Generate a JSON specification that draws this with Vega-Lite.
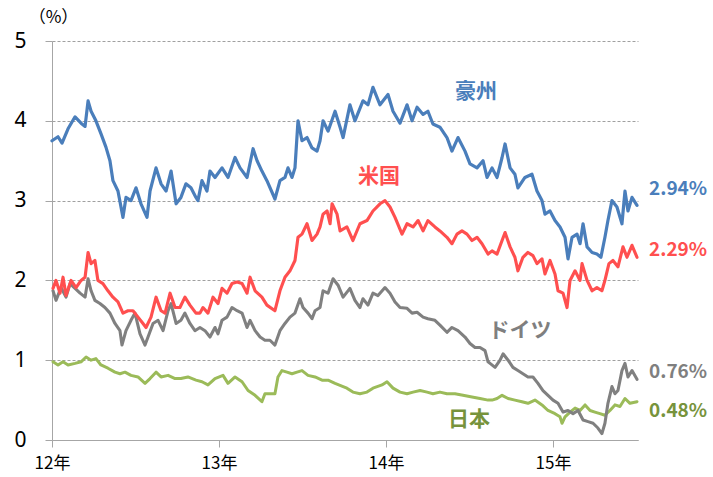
{
  "$schema": "https://vega.github.io/schema/vega-lite/v6.json",
  "width": 586,
  "height": 399,
  "autosize": {"type": "none"},
  "padding": {"left": 52, "top": 41, "right": 75, "bottom": 37},
  "config": {
    "view": {"stroke": null},
    "font": "Noto Sans CJK JP",
    "axis": {"labelFont": "Noto Sans CJK JP", "titleFont": "Noto Sans CJK JP"}
  },
  "datasets": {
    "series": [
      {"c":"日本","t":12.006,"v":0.98},{"c":"日本","t":12.036,"v":0.94},{"c":"日本","t":12.066,"v":0.98},{"c":"日本","t":12.096,"v":0.94},{"c":"日本","t":12.138,"v":0.96},{"c":"日本","t":12.174,"v":0.98},{"c":"日本","t":12.204,"v":1.04},{"c":"日本","t":12.234,"v":1.0},{"c":"日本","t":12.263,"v":1.02},{"c":"日本","t":12.293,"v":0.94},{"c":"日本","t":12.335,"v":0.9},{"c":"日本","t":12.377,"v":0.85},{"c":"日本","t":12.407,"v":0.83},{"c":"日本","t":12.437,"v":0.85},{"c":"日本","t":12.473,"v":0.81},{"c":"日本","t":12.515,"v":0.79},{"c":"日本","t":12.557,"v":0.71},{"c":"日本","t":12.587,"v":0.77},{"c":"日本","t":12.623,"v":0.85},{"c":"日本","t":12.653,"v":0.79},{"c":"日本","t":12.695,"v":0.81},{"c":"日本","t":12.737,"v":0.77},{"c":"日本","t":12.772,"v":0.77},{"c":"日本","t":12.814,"v":0.79},{"c":"日本","t":12.862,"v":0.75},{"c":"日本","t":12.898,"v":0.73},{"c":"日本","t":12.934,"v":0.69},{"c":"日本","t":12.976,"v":0.77},{"c":"日本","t":13.024,"v":0.81},{"c":"日本","t":13.054,"v":0.71},{"c":"日本","t":13.096,"v":0.79},{"c":"日本","t":13.138,"v":0.73},{"c":"日本","t":13.174,"v":0.62},{"c":"日本","t":13.216,"v":0.56},{"c":"日本","t":13.257,"v":0.48},{"c":"日本","t":13.275,"v":0.58},{"c":"日本","t":13.305,"v":0.58},{"c":"日本","t":13.335,"v":0.58},{"c":"日本","t":13.353,"v":0.79},{"c":"日本","t":13.377,"v":0.87},{"c":"日本","t":13.407,"v":0.85},{"c":"日本","t":13.437,"v":0.83},{"c":"日本","t":13.467,"v":0.85},{"c":"日本","t":13.497,"v":0.87},{"c":"日本","t":13.533,"v":0.81},{"c":"日本","t":13.575,"v":0.79},{"c":"日本","t":13.617,"v":0.75},{"c":"日本","t":13.653,"v":0.75},{"c":"日本","t":13.695,"v":0.71},{"c":"日本","t":13.743,"v":0.67},{"c":"日本","t":13.766,"v":0.65},{"c":"日本","t":13.802,"v":0.6},{"c":"日本","t":13.844,"v":0.58},{"c":"日本","t":13.886,"v":0.6},{"c":"日本","t":13.922,"v":0.65},{"c":"日本","t":13.976,"v":0.69},{"c":"日本","t":14.006,"v":0.73},{"c":"日本","t":14.042,"v":0.65},{"c":"日本","t":14.084,"v":0.6},{"c":"日本","t":14.126,"v":0.58},{"c":"日本","t":14.162,"v":0.6},{"c":"日本","t":14.204,"v":0.62},{"c":"日本","t":14.246,"v":0.6},{"c":"日本","t":14.281,"v":0.58},{"c":"日本","t":14.323,"v":0.6},{"c":"日本","t":14.365,"v":0.58},{"c":"日本","t":14.413,"v":0.58},{"c":"日本","t":14.461,"v":0.56},{"c":"日本","t":14.515,"v":0.54},{"c":"日本","t":14.563,"v":0.52},{"c":"日本","t":14.611,"v":0.5},{"c":"日本","t":14.635,"v":0.5},{"c":"日本","t":14.665,"v":0.52},{"c":"日本","t":14.695,"v":0.56},{"c":"日本","t":14.731,"v":0.52},{"c":"日本","t":14.772,"v":0.5},{"c":"日本","t":14.814,"v":0.48},{"c":"日本","t":14.85,"v":0.46},{"c":"日本","t":14.892,"v":0.5},{"c":"日本","t":14.934,"v":0.44},{"c":"日本","t":14.97,"v":0.37},{"c":"日本","t":15.012,"v":0.33},{"c":"日本","t":15.042,"v":0.29},{"c":"日本","t":15.054,"v":0.21},{"c":"日本","t":15.072,"v":0.29},{"c":"日本","t":15.102,"v":0.35},{"c":"日本","t":15.132,"v":0.4},{"c":"日本","t":15.162,"v":0.37},{"c":"日本","t":15.192,"v":0.44},{"c":"日本","t":15.222,"v":0.37},{"c":"日本","t":15.251,"v":0.35},{"c":"日本","t":15.281,"v":0.33},{"c":"日本","t":15.311,"v":0.31},{"c":"日本","t":15.341,"v":0.37},{"c":"日本","t":15.371,"v":0.44},{"c":"日本","t":15.401,"v":0.42},{"c":"日本","t":15.431,"v":0.52},{"c":"日本","t":15.461,"v":0.46},{"c":"日本","t":15.503,"v":0.48},

      {"c":"ドイツ","t":12.006,"v":1.87},{"c":"ドイツ","t":12.024,"v":1.75},{"c":"ドイツ","t":12.054,"v":1.91},{"c":"ドイツ","t":12.084,"v":1.79},{"c":"ドイツ","t":12.108,"v":1.96},{"c":"ドイツ","t":12.138,"v":1.9},{"c":"ドイツ","t":12.168,"v":1.84},{"c":"ドイツ","t":12.198,"v":1.79},{"c":"ドイツ","t":12.216,"v":2.02},{"c":"ドイツ","t":12.234,"v":1.87},{"c":"ドイツ","t":12.257,"v":1.75},{"c":"ドイツ","t":12.287,"v":1.71},{"c":"ドイツ","t":12.317,"v":1.66},{"c":"ドイツ","t":12.347,"v":1.59},{"c":"ドイツ","t":12.377,"v":1.46},{"c":"ドイツ","t":12.407,"v":1.37},{"c":"ドイツ","t":12.419,"v":1.19},{"c":"ドイツ","t":12.443,"v":1.37},{"c":"ドイツ","t":12.473,"v":1.5},{"c":"ドイツ","t":12.497,"v":1.59},{"c":"ドイツ","t":12.527,"v":1.33},{"c":"ドイツ","t":12.557,"v":1.19},{"c":"ドイツ","t":12.575,"v":1.29},{"c":"ドイツ","t":12.605,"v":1.46},{"c":"ドイツ","t":12.635,"v":1.5},{"c":"ドイツ","t":12.665,"v":1.37},{"c":"ドイツ","t":12.695,"v":1.62},{"c":"ドイツ","t":12.713,"v":1.71},{"c":"ドイツ","t":12.743,"v":1.46},{"c":"ドイツ","t":12.772,"v":1.5},{"c":"ドイツ","t":12.796,"v":1.59},{"c":"ドイツ","t":12.826,"v":1.46},{"c":"ドイツ","t":12.856,"v":1.37},{"c":"ドイツ","t":12.886,"v":1.41},{"c":"ドイツ","t":12.916,"v":1.37},{"c":"ドイツ","t":12.946,"v":1.29},{"c":"ドイツ","t":12.976,"v":1.41},{"c":"ドイツ","t":12.994,"v":1.33},{"c":"ドイツ","t":13.018,"v":1.5},{"c":"ドイツ","t":13.048,"v":1.54},{"c":"ドイツ","t":13.078,"v":1.66},{"c":"ドイツ","t":13.108,"v":1.62},{"c":"ドイツ","t":13.138,"v":1.59},{"c":"ドイツ","t":13.168,"v":1.41},{"c":"ドイツ","t":13.186,"v":1.5},{"c":"ドイツ","t":13.216,"v":1.37},{"c":"ドイツ","t":13.246,"v":1.29},{"c":"ドイツ","t":13.275,"v":1.25},{"c":"ドイツ","t":13.305,"v":1.25},{"c":"ドイツ","t":13.335,"v":1.19},{"c":"ドイツ","t":13.365,"v":1.37},{"c":"ドイツ","t":13.395,"v":1.46},{"c":"ドイツ","t":13.425,"v":1.54},{"c":"ドイツ","t":13.455,"v":1.59},{"c":"ドイツ","t":13.485,"v":1.77},{"c":"ドイツ","t":13.503,"v":1.66},{"c":"ドイツ","t":13.533,"v":1.59},{"c":"ドイツ","t":13.557,"v":1.52},{"c":"ドイツ","t":13.575,"v":1.62},{"c":"ドイツ","t":13.605,"v":1.66},{"c":"ドイツ","t":13.623,"v":1.87},{"c":"ドイツ","t":13.653,"v":1.84},{"c":"ドイツ","t":13.683,"v":2.02},{"c":"ドイツ","t":13.713,"v":1.94},{"c":"ドイツ","t":13.743,"v":1.79},{"c":"ドイツ","t":13.784,"v":1.9},{"c":"ドイツ","t":13.814,"v":1.75},{"c":"ドイツ","t":13.844,"v":1.66},{"c":"ドイツ","t":13.862,"v":1.77},{"c":"ドイツ","t":13.892,"v":1.69},{"c":"ドイツ","t":13.922,"v":1.84},{"c":"ドイツ","t":13.952,"v":1.81},{"c":"ドイツ","t":13.994,"v":1.91},{"c":"ドイツ","t":14.024,"v":1.84},{"c":"ドイツ","t":14.054,"v":1.73},{"c":"ドイツ","t":14.084,"v":1.66},{"c":"ドイツ","t":14.126,"v":1.65},{"c":"ドイツ","t":14.156,"v":1.59},{"c":"ドイツ","t":14.186,"v":1.6},{"c":"ドイツ","t":14.222,"v":1.54},{"c":"ドイツ","t":14.251,"v":1.52},{"c":"ドイツ","t":14.293,"v":1.5},{"c":"ドイツ","t":14.323,"v":1.44},{"c":"ドイツ","t":14.365,"v":1.35},{"c":"ドイツ","t":14.395,"v":1.41},{"c":"ドイツ","t":14.431,"v":1.37},{"c":"ドイツ","t":14.473,"v":1.29},{"c":"ドイツ","t":14.503,"v":1.21},{"c":"ドイツ","t":14.533,"v":1.16},{"c":"ドイツ","t":14.563,"v":1.16},{"c":"ドイツ","t":14.593,"v":1.12},{"c":"ドイツ","t":14.611,"v":0.98},{"c":"ドイツ","t":14.623,"v":0.96},{"c":"ドイツ","t":14.653,"v":0.91},{"c":"ドイツ","t":14.683,"v":1.0},{"c":"ドイツ","t":14.701,"v":1.08},{"c":"ドイツ","t":14.731,"v":1.0},{"c":"ドイツ","t":14.76,"v":0.91},{"c":"ドイツ","t":14.79,"v":0.87},{"c":"ドイツ","t":14.82,"v":0.83},{"c":"ドイツ","t":14.85,"v":0.79},{"c":"ドイツ","t":14.88,"v":0.79},{"c":"ドイツ","t":14.91,"v":0.71},{"c":"ドイツ","t":14.94,"v":0.62},{"c":"ドイツ","t":14.97,"v":0.56},{"c":"ドイツ","t":15.0,"v":0.5},{"c":"ドイツ","t":15.03,"v":0.46},{"c":"ドイツ","t":15.06,"v":0.35},{"c":"ドイツ","t":15.09,"v":0.37},{"c":"ドイツ","t":15.12,"v":0.33},{"c":"ドイツ","t":15.15,"v":0.37},{"c":"ドイツ","t":15.18,"v":0.25},{"c":"ドイツ","t":15.21,"v":0.23},{"c":"ドイツ","t":15.24,"v":0.21},{"c":"ドイツ","t":15.269,"v":0.15},{"c":"ドイツ","t":15.293,"v":0.08},{"c":"ドイツ","t":15.311,"v":0.21},{"c":"ドイツ","t":15.329,"v":0.46},{"c":"ドイツ","t":15.353,"v":0.67},{"c":"ドイツ","t":15.371,"v":0.58},{"c":"ドイツ","t":15.389,"v":0.62},{"c":"ドイツ","t":15.413,"v":0.87},{"c":"ドイツ","t":15.431,"v":0.96},{"c":"ドイツ","t":15.449,"v":0.79},{"c":"ドイツ","t":15.473,"v":0.87},{"c":"ドイツ","t":15.503,"v":0.76},

      {"c":"米国","t":12.006,"v":1.9},{"c":"米国","t":12.024,"v":2.0},{"c":"米国","t":12.048,"v":1.84},{"c":"米国","t":12.066,"v":2.04},{"c":"米国","t":12.084,"v":1.81},{"c":"米国","t":12.114,"v":2.0},{"c":"米国","t":12.144,"v":1.91},{"c":"米国","t":12.174,"v":2.0},{"c":"米国","t":12.198,"v":2.04},{"c":"米国","t":12.216,"v":2.35},{"c":"米国","t":12.234,"v":2.21},{"c":"米国","t":12.257,"v":2.25},{"c":"米国","t":12.275,"v":2.0},{"c":"米国","t":12.305,"v":1.96},{"c":"米国","t":12.335,"v":1.87},{"c":"米国","t":12.365,"v":1.79},{"c":"米国","t":12.395,"v":1.73},{"c":"米国","t":12.425,"v":1.59},{"c":"米国","t":12.455,"v":1.62},{"c":"米国","t":12.485,"v":1.62},{"c":"米国","t":12.515,"v":1.54},{"c":"米国","t":12.545,"v":1.46},{"c":"米国","t":12.563,"v":1.41},{"c":"米国","t":12.593,"v":1.54},{"c":"米国","t":12.623,"v":1.79},{"c":"米国","t":12.653,"v":1.62},{"c":"米国","t":12.677,"v":1.59},{"c":"米国","t":12.707,"v":1.84},{"c":"米国","t":12.737,"v":1.66},{"c":"米国","t":12.766,"v":1.66},{"c":"米国","t":12.796,"v":1.79},{"c":"米国","t":12.826,"v":1.69},{"c":"米国","t":12.862,"v":1.59},{"c":"米国","t":12.886,"v":1.59},{"c":"米国","t":12.904,"v":1.66},{"c":"米国","t":12.934,"v":1.59},{"c":"米国","t":12.964,"v":1.79},{"c":"米国","t":12.994,"v":1.71},{"c":"米国","t":13.018,"v":1.9},{"c":"米国","t":13.048,"v":1.84},{"c":"米国","t":13.078,"v":1.96},{"c":"米国","t":13.108,"v":1.98},{"c":"米国","t":13.138,"v":1.96},{"c":"米国","t":13.168,"v":1.84},{"c":"米国","t":13.186,"v":2.04},{"c":"米国","t":13.216,"v":1.87},{"c":"米国","t":13.257,"v":1.79},{"c":"米国","t":13.287,"v":1.69},{"c":"米国","t":13.335,"v":1.62},{"c":"米国","t":13.365,"v":1.87},{"c":"米国","t":13.395,"v":2.04},{"c":"米国","t":13.425,"v":2.12},{"c":"米国","t":13.455,"v":2.25},{"c":"米国","t":13.473,"v":2.54},{"c":"米国","t":13.497,"v":2.58},{"c":"米国","t":13.527,"v":2.71},{"c":"米国","t":13.557,"v":2.5},{"c":"米国","t":13.587,"v":2.58},{"c":"米国","t":13.605,"v":2.67},{"c":"米国","t":13.623,"v":2.83},{"c":"米国","t":13.647,"v":2.87},{"c":"米国","t":13.665,"v":2.71},{"c":"米国","t":13.677,"v":2.96},{"c":"米国","t":13.707,"v":2.83},{"c":"米国","t":13.725,"v":2.62},{"c":"米国","t":13.766,"v":2.67},{"c":"米国","t":13.802,"v":2.5},{"c":"米国","t":13.844,"v":2.71},{"c":"米国","t":13.886,"v":2.75},{"c":"米国","t":13.922,"v":2.87},{"c":"米国","t":13.964,"v":2.96},{"c":"米国","t":13.994,"v":3.0},{"c":"米国","t":14.024,"v":2.92},{"c":"米国","t":14.054,"v":2.79},{"c":"米国","t":14.096,"v":2.58},{"c":"米国","t":14.126,"v":2.71},{"c":"米国","t":14.162,"v":2.67},{"c":"米国","t":14.192,"v":2.75},{"c":"米国","t":14.222,"v":2.62},{"c":"米国","t":14.251,"v":2.75},{"c":"米国","t":14.293,"v":2.67},{"c":"米国","t":14.323,"v":2.62},{"c":"米国","t":14.365,"v":2.54},{"c":"米国","t":14.395,"v":2.46},{"c":"米国","t":14.425,"v":2.58},{"c":"米国","t":14.455,"v":2.62},{"c":"米国","t":14.485,"v":2.58},{"c":"米国","t":14.515,"v":2.5},{"c":"米国","t":14.545,"v":2.54},{"c":"米国","t":14.575,"v":2.46},{"c":"米国","t":14.611,"v":2.33},{"c":"米国","t":14.635,"v":2.37},{"c":"米国","t":14.665,"v":2.33},{"c":"米国","t":14.695,"v":2.5},{"c":"米国","t":14.713,"v":2.6},{"c":"米国","t":14.743,"v":2.42},{"c":"米国","t":14.772,"v":2.29},{"c":"米国","t":14.79,"v":2.12},{"c":"米国","t":14.82,"v":2.29},{"c":"米国","t":14.85,"v":2.35},{"c":"米国","t":14.88,"v":2.31},{"c":"米国","t":14.904,"v":2.21},{"c":"米国","t":14.934,"v":2.27},{"c":"米国","t":14.952,"v":2.08},{"c":"米国","t":14.982,"v":2.25},{"c":"米国","t":15.012,"v":2.08},{"c":"米国","t":15.03,"v":1.87},{"c":"米国","t":15.06,"v":1.84},{"c":"米国","t":15.084,"v":1.66},{"c":"米国","t":15.102,"v":2.0},{"c":"米国","t":15.132,"v":2.12},{"c":"米国","t":15.162,"v":2.0},{"c":"米国","t":15.174,"v":2.21},{"c":"米国","t":15.204,"v":2.0},{"c":"米国","t":15.234,"v":1.87},{"c":"米国","t":15.263,"v":1.91},{"c":"米国","t":15.293,"v":1.87},{"c":"米国","t":15.311,"v":2.0},{"c":"米国","t":15.335,"v":2.21},{"c":"米国","t":15.359,"v":2.25},{"c":"米国","t":15.389,"v":2.17},{"c":"米国","t":15.419,"v":2.42},{"c":"米国","t":15.443,"v":2.29},{"c":"米国","t":15.473,"v":2.44},{"c":"米国","t":15.503,"v":2.29},

      {"c":"豪州","t":12.0,"v":3.75},{"c":"豪州","t":12.036,"v":3.8},{"c":"豪州","t":12.06,"v":3.72},{"c":"豪州","t":12.096,"v":3.9},{"c":"豪州","t":12.138,"v":4.05},{"c":"豪州","t":12.174,"v":3.97},{"c":"豪州","t":12.198,"v":3.93},{"c":"豪州","t":12.216,"v":4.25},{"c":"豪州","t":12.234,"v":4.12},{"c":"豪州","t":12.263,"v":4.0},{"c":"豪州","t":12.293,"v":3.84},{"c":"豪州","t":12.323,"v":3.67},{"c":"豪州","t":12.347,"v":3.5},{"c":"豪州","t":12.365,"v":3.25},{"c":"豪州","t":12.395,"v":3.12},{"c":"豪州","t":12.425,"v":2.79},{"c":"豪州","t":12.443,"v":3.04},{"c":"豪州","t":12.473,"v":3.0},{"c":"豪州","t":12.503,"v":3.16},{"c":"豪州","t":12.533,"v":2.96},{"c":"豪州","t":12.569,"v":2.79},{"c":"豪州","t":12.587,"v":3.12},{"c":"豪州","t":12.623,"v":3.41},{"c":"豪州","t":12.653,"v":3.21},{"c":"豪州","t":12.683,"v":3.12},{"c":"豪州","t":12.713,"v":3.37},{"c":"豪州","t":12.743,"v":2.96},{"c":"豪州","t":12.772,"v":3.04},{"c":"豪州","t":12.802,"v":3.21},{"c":"豪州","t":12.832,"v":3.16},{"c":"豪州","t":12.862,"v":3.04},{"c":"豪州","t":12.874,"v":3.0},{"c":"豪州","t":12.898,"v":3.25},{"c":"豪州","t":12.928,"v":3.12},{"c":"豪州","t":12.946,"v":3.37},{"c":"豪州","t":12.976,"v":3.29},{"c":"豪州","t":13.018,"v":3.41},{"c":"豪州","t":13.054,"v":3.29},{"c":"豪州","t":13.096,"v":3.54},{"c":"豪州","t":13.126,"v":3.41},{"c":"豪州","t":13.168,"v":3.29},{"c":"豪州","t":13.204,"v":3.65},{"c":"豪州","t":13.228,"v":3.5},{"c":"豪州","t":13.257,"v":3.37},{"c":"豪州","t":13.287,"v":3.25},{"c":"豪州","t":13.335,"v":3.02},{"c":"豪州","t":13.365,"v":3.25},{"c":"豪州","t":13.395,"v":3.29},{"c":"豪州","t":13.413,"v":3.41},{"c":"豪州","t":13.437,"v":3.29},{"c":"豪州","t":13.455,"v":3.41},{"c":"豪州","t":13.473,"v":4.0},{"c":"豪州","t":13.497,"v":3.75},{"c":"豪州","t":13.527,"v":3.79},{"c":"豪州","t":13.557,"v":3.66},{"c":"豪州","t":13.587,"v":3.62},{"c":"豪州","t":13.605,"v":3.75},{"c":"豪州","t":13.623,"v":4.0},{"c":"豪州","t":13.653,"v":3.87},{"c":"豪州","t":13.695,"v":4.12},{"c":"豪州","t":13.725,"v":3.92},{"c":"豪州","t":13.743,"v":3.79},{"c":"豪州","t":13.784,"v":4.2},{"c":"豪州","t":13.814,"v":4.0},{"c":"豪州","t":13.862,"v":4.25},{"c":"豪州","t":13.892,"v":4.2},{"c":"豪州","t":13.922,"v":4.42},{"c":"豪州","t":13.964,"v":4.2},{"c":"豪州","t":14.012,"v":4.33},{"c":"豪州","t":14.042,"v":4.12},{"c":"豪州","t":14.084,"v":3.97},{"c":"豪州","t":14.126,"v":4.2},{"c":"豪州","t":14.156,"v":4.0},{"c":"豪州","t":14.186,"v":4.17},{"c":"豪州","t":14.222,"v":4.08},{"c":"豪州","t":14.251,"v":4.12},{"c":"豪州","t":14.281,"v":3.96},{"c":"豪州","t":14.323,"v":3.92},{"c":"豪州","t":14.365,"v":3.79},{"c":"豪州","t":14.395,"v":3.62},{"c":"豪州","t":14.431,"v":3.79},{"c":"豪州","t":14.473,"v":3.62},{"c":"豪州","t":14.503,"v":3.46},{"c":"豪州","t":14.545,"v":3.41},{"c":"豪州","t":14.581,"v":3.5},{"c":"豪州","t":14.605,"v":3.29},{"c":"豪州","t":14.635,"v":3.41},{"c":"豪州","t":14.665,"v":3.29},{"c":"豪州","t":14.695,"v":3.54},{"c":"豪州","t":14.713,"v":3.71},{"c":"豪州","t":14.743,"v":3.41},{"c":"豪州","t":14.772,"v":3.33},{"c":"豪州","t":14.79,"v":3.16},{"c":"豪州","t":14.832,"v":3.29},{"c":"豪州","t":14.874,"v":3.33},{"c":"豪州","t":14.904,"v":3.12},{"c":"豪州","t":14.934,"v":3.0},{"c":"豪州","t":14.952,"v":2.83},{"c":"豪州","t":14.982,"v":2.87},{"c":"豪州","t":15.012,"v":2.75},{"c":"豪州","t":15.042,"v":2.67},{"c":"豪州","t":15.072,"v":2.54},{"c":"豪州","t":15.09,"v":2.27},{"c":"豪州","t":15.114,"v":2.54},{"c":"豪州","t":15.144,"v":2.58},{"c":"豪州","t":15.162,"v":2.46},{"c":"豪州","t":15.18,"v":2.71},{"c":"豪州","t":15.204,"v":2.42},{"c":"豪州","t":15.234,"v":2.35},{"c":"豪州","t":15.263,"v":2.33},{"c":"豪州","t":15.287,"v":2.29},{"c":"豪州","t":15.311,"v":2.54},{"c":"豪州","t":15.329,"v":2.75},{"c":"豪州","t":15.353,"v":3.0},{"c":"豪州","t":15.383,"v":2.92},{"c":"豪州","t":15.413,"v":2.71},{"c":"豪州","t":15.431,"v":3.12},{"c":"豪州","t":15.449,"v":2.87},{"c":"豪州","t":15.473,"v":3.04},{"c":"豪州","t":15.503,"v":2.94}
    ],
    "names": [
      {"c":"豪州","t":14.539,"v":4.36,"label":"豪州"},
      {"c":"米国","t":13.958,"v":3.3,"label":"米国"},
      {"c":"ドイツ","t":14.802,"v":1.36,"label":"ドイツ"},
      {"c":"日本","t":14.497,"v":0.25,"label":"日本"}
    ],
    "ends": [
      {"c":"豪州","t":15.509,"v":3.15,"label":"2.94%"},
      {"c":"米国","t":15.509,"v":2.375,"label":"2.29%"},
      {"c":"ドイツ","t":15.509,"v":0.85,"label":"0.76%"},
      {"c":"日本","t":15.509,"v":0.36,"label":"0.48%"}
    ]
  },
  "layer": [
    {
      "data": {"name": "series"},
      "mark": {"type": "line", "strokeJoin": "round", "strokeCap": "round"},
      "encoding": {
        "x": {
          "field": "t", "type": "quantitative",
          "scale": {"domain": [12, 15.509], "nice": false, "zero": false},
          "axis": {
            "values": [12, 13, 14, 15],
            "labelExpr": "datum.value + '年'",
            "grid": false, "title": null,
            "domainColor": "#a6a6a6", "tickColor": "#a6a6a6", "tickSize": 7,
            "labelFontSize": 17, "labelColor": "#000000", "labelPadding": 8,
            "labelFlush": false
          }
        },
        "y": {
          "field": "v", "type": "quantitative",
          "scale": {"domain": [0, 5], "nice": false},
          "axis": {
            "values": [0, 1, 2, 3, 4, 5],
            "format": "d",
            "grid": true, "gridDash": [3, 2], "gridColor": "#a0a0a0", "gridWidth": 1,
            "domainColor": "#a6a6a6", "tickColor": "#a6a6a6", "tickSize": 7,
            "labelFontSize": 21, "labelColor": "#000000", "labelPadding": 19,
            "labelFont": "Noto Sans",
            "title": "（%）", "titleAngle": 0, "titleX": 1, "titleY": -24,
            "titleAlign": "center", "titleBaseline": "middle",
            "titleFontSize": 17, "titleFontWeight": "normal", "titleColor": "#000000"
          }
        },
        "color": {
          "field": "c", "type": "nominal",
          "scale": {"domain": ["日本", "ドイツ", "米国", "豪州"], "range": ["#9BBB59", "#808080", "#FF4F4F", "#4A7EBB"]},
          "legend": null
        },
        "strokeWidth": {
          "field": "c", "type": "nominal",
          "scale": {"domain": ["日本", "ドイツ", "米国", "豪州"], "range": [3, 3.2, 3.2, 5.5]},
          "legend": null
        }
      }
    },
    {
      "data": {"name": "names"},
      "mark": {"type": "text", "fontSize": 21, "fontWeight": "bold", "align": "center", "baseline": "middle"},
      "encoding": {
        "x": {"field": "t", "type": "quantitative"},
        "y": {"field": "v", "type": "quantitative"},
        "text": {"field": "label"},
        "color": {
          "field": "c", "type": "nominal",
          "scale": {"domain": ["日本", "ドイツ", "米国", "豪州"], "range": ["#77933C", "#7F7F7F", "#FF4F4F", "#4A7EBB"]},
          "legend": null
        }
      }
    },
    {
      "data": {"name": "ends"},
      "mark": {"type": "text", "fontSize": 19, "fontWeight": "bold", "align": "left", "baseline": "middle", "dx": 11},
      "encoding": {
        "x": {"field": "t", "type": "quantitative"},
        "y": {"field": "v", "type": "quantitative"},
        "text": {"field": "label"},
        "color": {
          "field": "c", "type": "nominal",
          "scale": {"domain": ["日本", "ドイツ", "米国", "豪州"], "range": ["#77933C", "#7F7F7F", "#FF4F4F", "#4A7EBB"]},
          "legend": null
        }
      }
    }
  ],
  "resolve": {"scale": {"color": "independent"}}
}
